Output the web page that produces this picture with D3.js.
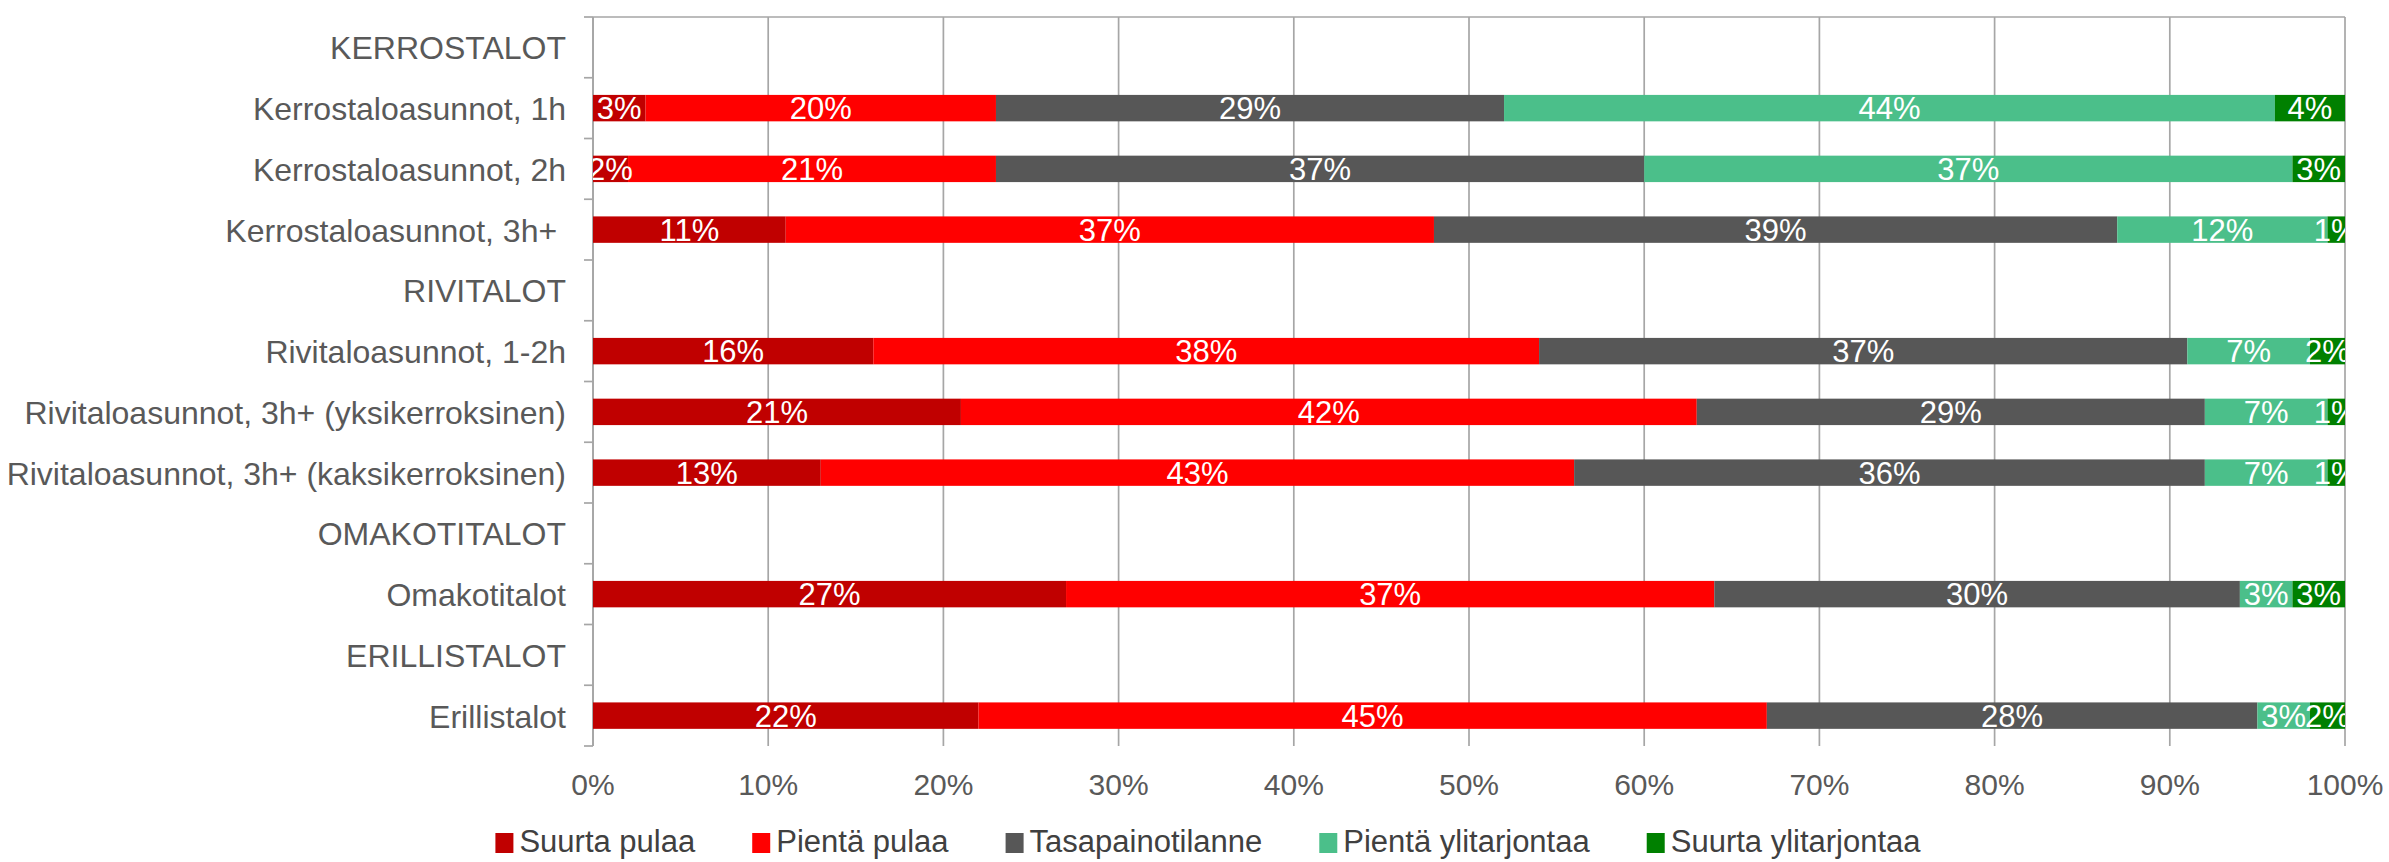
<!DOCTYPE html>
<meta charset="utf-8">
<style>
  body { margin: 0; background: white; }
  svg text { font-family: "Liberation Sans", Arial, sans-serif; }
</style>
<script src="https://d3js.org/d3.v7.min.js"></script>
<body>
<div id="chart"></div>
<script>
// categories, top to bottom (group headers have no bars)
const categories = [
  "KERROSTALOT",
  "Kerrostaloasunnot, 1h",
  "Kerrostaloasunnot, 2h",
  "Kerrostaloasunnot, 3h+ ",
  "RIVITALOT",
  "Rivitaloasunnot, 1-2h",
  "Rivitaloasunnot, 3h+ (yksikerroksinen)",
  "Rivitaloasunnot, 3h+ (kaksikerroksinen)",
  "OMAKOTITALOT",
  "Omakotitalot",
  "ERILLISTALOT",
  "Erillistalot"
];
const seriesNames = ["Suurta pulaa", "Pientä pulaa", "Tasapainotilanne", "Pientä ylitarjontaa", "Suurta ylitarjontaa"];
const seriesColors = ["#c00000", "#ff0000", "#575757", "#4bbf8a", "#008000"];

const suurtaPulaa       = [null, 3, 2, 11, null, 16, 21, 13, null, 27, null, 22];
const pientaPulaa       = [null, 20, 21, 37, null, 38, 42, 43, null, 37, null, 45];
const tasapaino         = [null, 29, 37, 39, null, 37, 29, 36, null, 30, null, 28];
const pientaYlitarjonta = [null, 44, 37, 12, null, 7, 7, 7, null, 3, null, 3];
const suurtaYlitarjonta = [null, 4, 3, 1, null, 2, 1, 1, null, 3, null, 2];

const xTicks = [0, 10, 20, 30, 40, 50, 60, 70, 80, 90, 100];

const W = 2389, H = 862;
const plotLeft = 593, plotRight = 2345, plotTop = 17, plotBottom = 746;

const svg = d3.select("#chart").append("svg")
  .attr("width", W).attr("height", H);

const x = d3.scaleLinear().domain([0, 100]).range([plotLeft, plotRight]);
const y = d3.scaleBand().domain(categories).range([plotTop, plotBottom])
  .paddingInner(0.565).paddingOuter(0.2825);

// build table for the stack
const allSeries = [suurtaPulaa, pientaPulaa, tasapaino, pientaYlitarjonta, suurtaYlitarjonta];
const rows = categories.map((c, i) => {
  let r = { cat: c, has: suurtaPulaa[i] !== null };
  seriesNames.forEach((s, j) => { r[s] = allSeries[j][i] || 0; });
  return r;
});
const stacked = d3.stack().keys(seriesNames)(rows);

const gridColor = "#a6a6a6";

// vertical gridlines
svg.append("g").selectAll("line")
  .data(xTicks)
  .join("line")
    .attr("x1", d => x(d)).attr("x2", d => x(d))
    .attr("y1", plotTop).attr("y2", plotBottom)
    .attr("stroke", gridColor).attr("stroke-width", 1.7);

// top border
svg.append("line")
  .attr("x1", plotLeft).attr("x2", plotRight)
  .attr("y1", plotTop).attr("y2", plotTop)
  .attr("stroke", gridColor).attr("stroke-width", 1.7);

// left axis line and band ticks
const step = y.step();
const boundaries = d3.range(categories.length + 1).map(i => plotTop + i * step);
svg.append("line")
  .attr("x1", plotLeft).attr("x2", plotLeft)
  .attr("y1", plotTop).attr("y2", plotBottom)
  .attr("stroke", gridColor).attr("stroke-width", 1.7);
svg.append("g").selectAll("line")
  .data(boundaries)
  .join("line")
    .attr("x1", plotLeft - 9).attr("x2", plotLeft)
    .attr("y1", d => d).attr("y2", d => d)
    .attr("stroke", gridColor).attr("stroke-width", 1.7);

// category labels
svg.append("g").selectAll("text")
  .data(categories)
  .join("text")
    .attr("x", 566)
    .attr("y", d => y(d) + y.bandwidth() / 2 + 12)
    .attr("text-anchor", "end")
    .style("white-space", "pre")
    .attr("font-size", 32)
    .attr("fill", "#595959")
    .text(d => d);

// bars
const layer = svg.append("g").selectAll("g")
  .data(stacked)
  .join("g")
    .attr("fill", (d, i) => seriesColors[i]);
layer.selectAll("rect")
  .data(d => d.filter(p => p.data.has))
  .join("rect")
    .attr("x", p => x(p[0]))
    .attr("width", p => x(p[1]) - x(p[0]))
    .attr("y", p => y(p.data.cat))
    .attr("height", y.bandwidth());

// value labels, clipped to the plot area
svg.append("clipPath").attr("id", "plotclip")
  .append("rect").attr("x", plotLeft).attr("y", plotTop)
  .attr("width", plotRight - plotLeft).attr("height", plotBottom - plotTop);

const labels = svg.append("g").attr("clip-path", "url(#plotclip)");
stacked.forEach(s => {
  labels.selectAll(null)
    .data(s.filter(p => p.data.has && p[1] - p[0] > 0))
    .join("text")
      .attr("x", p => x((p[0] + p[1]) / 2))
      .attr("y", p => y(p.data.cat) + y.bandwidth() / 2 + 11)
      .attr("text-anchor", "middle")
      .attr("font-size", 31)
      .attr("fill", "white")
      .text(p => (p[1] - p[0]) + "%");
});

// x tick labels
svg.append("g").selectAll("text")
  .data(xTicks)
  .join("text")
    .attr("x", d => x(d))
    .attr("y", 795)
    .attr("text-anchor", "middle")
    .attr("font-size", 30)
    .attr("fill", "#595959")
    .text(d => d + "%");

// legend
const legend = svg.append("g");
let lx = 0;
seriesNames.forEach((name, i) => {
  const g = legend.append("g").attr("transform", "translate(" + lx + ",0)");
  g.append("rect")
    .attr("x", 0).attr("y", 833)
    .attr("width", 18).attr("height", 20)
    .attr("fill", seriesColors[i]);
  const t = g.append("text")
    .attr("x", 24).attr("y", 852)
    .attr("font-size", 31)
    .attr("fill", "#404040")
    .text(name);
  lx += 24 + t.node().getComputedTextLength() + 57;
});
const legendWidth = lx - 57;
legend.attr("transform", "translate(" + (1208 - legendWidth / 2) + ",0)");
</script>
</body>
